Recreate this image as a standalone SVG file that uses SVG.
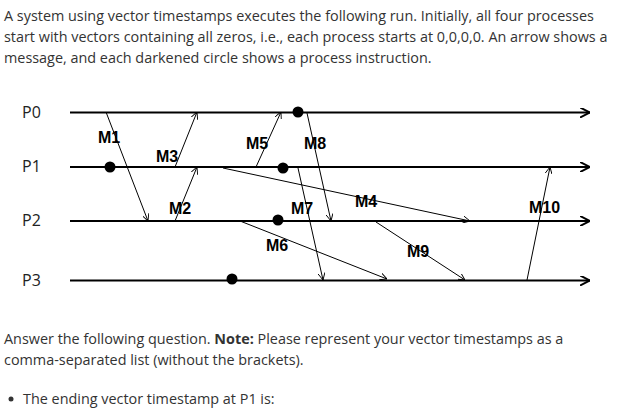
<svg xmlns="http://www.w3.org/2000/svg" width="621" height="419" viewBox="0 0 621 419">
<defs>
<marker id="a" viewBox="0 0 10 10" refX="10" refY="5" markerWidth="7" markerHeight="7" orient="auto-start-reverse" markerUnits="userSpaceOnUse"><path d="M0,0 L10,5 L0,10" fill="none" stroke="#000" stroke-width="1.3"/></marker>
<marker id="b" viewBox="0 0 10 10" refX="10" refY="5" markerWidth="10" markerHeight="10" orient="auto" markerUnits="userSpaceOnUse"><path d="M0,0 L10,5 L0,10" fill="none" stroke="#000" stroke-width="2"/></marker>
</defs>
<style>
.t{font-family:"Open Sans","Noto Sans",sans-serif;font-size:14.4px;fill:#333}
.p{font-family:"Open Sans","Noto Sans",sans-serif;font-size:16px;fill:#222}
.m{font-family:"Liberation Sans",Arial,sans-serif;font-size:16px;font-weight:bold;fill:#000}
.tl{stroke:#000;stroke-width:2;marker-end:url(#b)}
.msg{stroke:#000;stroke-width:1;fill:none;marker-end:url(#a)}
</style>
<rect width="621" height="419" fill="#fff"/>
<text class="t" x="4" y="21">A system using vector timestamps executes the following run. Initially, all four processes</text>
<text class="t" x="4" y="42">start with vectors containing all zeros, i.e., each process starts at 0,0,0,0. An arrow shows a</text>
<text class="t" x="4" y="63">message, and each darkened circle shows a process instruction.</text>
<g id="P0"><text class="p" x="22" y="118">P0</text><line class="tl" x1="70" y1="112.5" x2="590" y2="112.5"/><circle cx="298" cy="112" r="5.5"/></g>
<g id="P1"><text class="p" x="22" y="172">P1</text><line class="tl" x1="70" y1="167" x2="590" y2="167"/><circle cx="110" cy="167" r="5.5"/><circle cx="283" cy="168" r="5.5"/></g>
<g id="P2"><text class="p" x="22" y="226">P2</text><line class="tl" x1="70" y1="221" x2="590" y2="221"/><circle cx="278" cy="220" r="5.5"/></g>
<g id="P3"><text class="p" x="22" y="286">P3</text><line class="tl" x1="70" y1="280.5" x2="590" y2="280.5"/><circle cx="232" cy="279" r="5.5"/></g>
<g id="connectors">
<line class="msg" x1="106" y1="112" x2="148" y2="221"/>
<line class="msg" x1="175" y1="221" x2="197" y2="167"/>
<line class="msg" x1="175" y1="167" x2="197" y2="112"/>
<line class="msg" x1="256" y1="167" x2="281" y2="112"/>
<line class="msg" x1="307" y1="113" x2="331" y2="221"/>
<line class="msg" x1="298" y1="168" x2="323" y2="280"/>
<line class="msg" x1="223" y1="168" x2="470" y2="221"/>
<line class="msg" x1="240" y1="221" x2="387" y2="279"/>
<line class="msg" x1="376" y1="222" x2="465" y2="280"/>
<line class="msg" x1="527" y1="280" x2="550" y2="167"/>
</g>
<g id="labels">
<text class="m" x="98" y="143">M1</text>
<text class="m" x="156" y="162">M3</text>
<text class="m" x="169" y="214">M2</text>
<text class="m" x="246" y="149">M5</text>
<text class="m" x="304" y="149">M8</text>
<text class="m" x="291" y="214">M7</text>
<text class="m" x="266" y="251">M6</text>
<text class="m" x="355" y="207">M4</text>
<text class="m" x="407" y="257">M9</text>
<text class="m" x="529" y="213">M10</text>
</g>
<text class="t" x="4" y="344">Answer the following question. <tspan font-weight="bold">Note:</tspan> Please represent your vector timestamps as a</text>
<text class="t" x="4" y="365">comma-separated list (without the brackets).</text>
<circle cx="11" cy="399" r="2.5" fill="#333"/>
<text class="t" x="23" y="404">The ending vector timestamp at P1 is:</text>
</svg>
